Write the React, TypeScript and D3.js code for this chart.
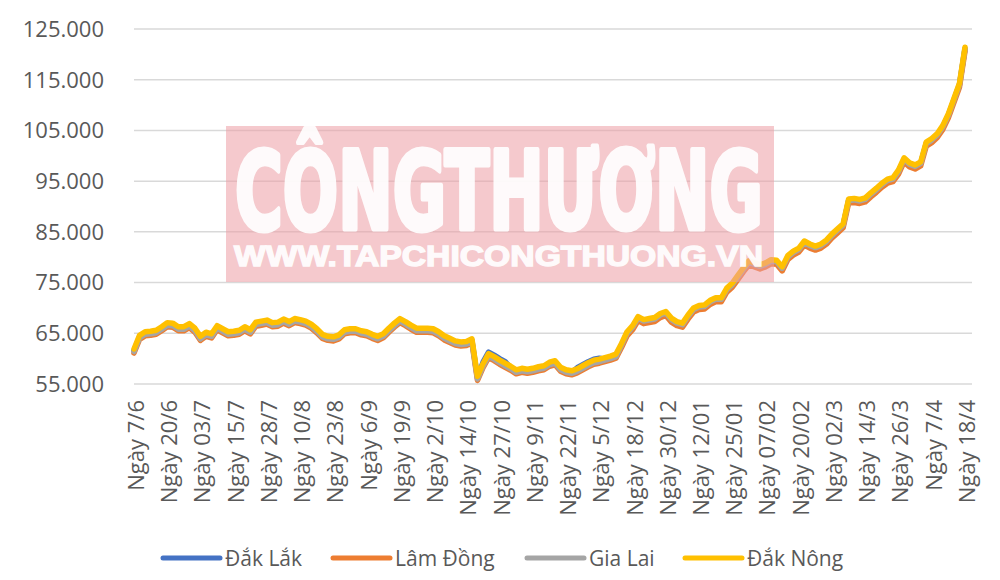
import React from "react";
import * as d3 from "d3";

// Tick labels shown on the category axis (one every 6 data points)
const tickLabels = [
  "Ngày 7/6", "Ngày 20/6", "Ngày 03/7", "Ngày 15/7", "Ngày 28/7", "Ngày 10/8",
  "Ngày 23/8", "Ngày 6/9", "Ngày 19/9", "Ngày 2/10", "Ngày 14/10", "Ngày 27/10",
  "Ngày 9/11", "Ngày 22/11", "Ngày 5/12", "Ngày 18/12", "Ngày 30/12", "Ngày 12/01",
  "Ngày 25/01", "Ngày 07/02", "Ngày 20/02", "Ngày 02/3", "Ngày 14/3", "Ngày 26/3",
  "Ngày 7/4", "Ngày 18/4",
];
const labelEvery = 6;

const yTicks = [55000, 65000, 75000, 85000, 95000, 105000, 115000, 125000];

const dakLak = [
  61600,64300,65000,65100,65300,66000,66800,66700,66000,66000,
  66600,65700,64100,64900,64600,66200,65600,65000,65100,65300,
  66000,65400,66900,67100,67300,66800,66900,67500,67000,67600,
  67400,67100,66500,65600,64500,64100,64000,64400,65400,65600,
  65600,65200,65000,64500,64100,64600,65700,66700,67600,67000,
  66300,65700,65700,65700,65600,65000,64200,63700,63200,63000,
  63100,63600,56200,59300,61300,60700,60000,59400,58200,57500,
  57800,57600,57800,58100,58300,59000,59300,58000,57500,57300,
  58200,58800,59400,59900,60100,59900,60200,60600,62700,65000,
  66200,68000,67400,67600,67800,68600,69000,67700,67000,66700,
  68300,69700,70200,70300,71200,71700,71700,73600,74600,76100,
  77600,79000,78600,78200,78600,79200,79100,77800,80000,80900,
  81500,82900,82300,81900,82300,83100,84300,85300,86300,91200,
  91300,91100,91400,92400,93300,94300,95100,95400,96900,99300,
  98300,97900,98500,102400,103100,104100,105700,108000,111000,114000,
  121100,
];

const lamDong = [
  61100,63800,64500,64600,64800,65500,66300,66200,65500,65500,
  66100,65200,63600,64400,64100,65700,65100,64500,64600,64800,
  65500,64900,66400,66600,66800,66300,66400,67000,66500,67100,
  66900,66600,66000,65100,64000,63600,63500,63900,64900,65100,
  65100,64700,64500,64000,63600,64100,65200,66200,67100,66500,
  65800,65200,65200,65200,65100,64500,63700,63200,62700,62500,
  62600,63100,55700,58200,60200,59600,58900,58300,57700,57000,
  57300,57100,57300,57600,57800,58500,58800,57500,57000,56800,
  57200,57800,58400,58900,59100,59400,59700,60100,62200,64500,
  65700,67500,66900,67100,67300,68100,68500,67200,66500,66200,
  67800,69200,69700,69800,70700,71200,71200,73100,74100,75600,
  77100,78500,78100,77700,78100,78700,78600,77300,79500,80400,
  81000,82400,81800,81400,81800,82600,83800,84800,85800,90700,
  90800,90600,90900,91900,92800,93800,94600,94900,96400,98800,
  97800,97400,98000,101900,102600,103600,105200,107500,110500,113500,
  120600,
];

const giaLai = [
  61400,64100,64800,64900,65100,65800,66600,66500,65800,65800,
  66400,65500,63900,64700,64400,66000,65400,64800,64900,65100,
  65800,65200,66700,66900,67100,66600,66700,67300,66800,67400,
  67200,66900,66300,65400,64300,63900,63800,64200,65200,65400,
  65400,65000,64800,64300,63900,64400,65500,66500,67400,66800,
  66100,65500,65500,65500,65400,64800,64000,63500,63000,62800,
  62900,63400,56000,58500,60500,59900,59200,58600,58000,57300,
  57600,57400,57600,57900,58100,58800,59100,57800,57300,57100,
  57500,58100,58700,59200,59400,59700,60000,60400,62700,65000,
  66200,68000,67400,67600,67800,68600,69000,67700,67000,66700,
  68300,69700,70200,70300,71200,71700,71700,73600,74600,76100,
  77600,79000,78600,78200,78600,79200,79100,77800,80000,80900,
  81500,82900,82300,81900,82300,83100,84300,85300,86300,91200,
  91300,91100,91400,92400,93300,94300,95100,95400,96900,99300,
  98300,97900,98500,102400,103100,104100,105700,108000,111000,114000,
  121100,
];

const dakNong = [
  61900,64600,65300,65400,65600,66300,67100,67000,66300,66300,
  66900,66000,64400,65200,64900,66500,65900,65300,65400,65600,
  66300,65700,67200,67400,67600,67100,67200,67800,67300,67900,
  67700,67400,66800,65900,64800,64400,64300,64700,65700,65900,
  65900,65500,65300,64800,64400,64900,66000,67000,67900,67300,
  66600,66000,66000,66000,65900,65300,64500,64000,63500,63300,
  63400,63900,56500,59000,61000,60400,59700,59100,58500,57800,
  58100,57900,58100,58400,58600,59300,59600,58300,57800,57600,
  58000,58600,59200,59700,59900,60200,60500,60900,63000,65300,
  66500,68300,67700,67900,68100,68900,69300,68000,67300,67000,
  68600,70000,70500,70600,71500,72000,72000,73900,74900,76400,
  77900,79300,78900,78500,78900,79500,79400,78100,80300,81200,
  81800,83200,82600,82200,82600,83400,84600,85600,86600,91500,
  91600,91400,91700,92700,93600,94600,95400,95700,97200,99600,
  98600,98200,98800,102700,103400,104400,106000,108300,111300,114300,
  121400,
];

const seriesNames = ["Đắk Lắk", "Lâm Đồng", "Gia Lai", "Đắk Nông"];
const seriesValues = [dakLak, lamDong, giaLai, dakNong];
const seriesColors = ["#4472C4", "#ED7D31", "#A5A5A5", "#FFC000"];

const W = 1000;
const H = 580;
const FONT = "'Open Sans', 'Noto Sans', sans-serif";

export default function App() {
  const n = dakNong.length;
  const idx = d3.range(n);
  const x = d3.scalePoint<number>().domain(idx).range([134, 965]);
  const y = d3.scaleLinear().domain([55000, 125000]).range([384, 29]);
  const fmt = (v: number) => d3.format(",")(v).replace(/,/g, ".");

  const line = (vals: number[]) =>
    d3
      .line<number>()
      .x((_, i) => x(i) as number)
      .y((v) => y(v))
      .curve(d3.curveLinear)(vals) || "";

  const legendX = [163, 333, 527, 685];

  return (
    <svg
      width={W}
      height={H}
      style={{ position: "absolute", left: 0, top: 0, background: "#fff" }}
      fontFamily={FONT}
    >
      <rect x={0} y={0} width={W} height={H} fill="#ffffff" />
      {/* gridlines */}
      {yTicks.map((t) => (
        <line key={t} x1={134} x2={972} y1={y(t)} y2={y(t)} stroke="#d9d9d9" strokeWidth={1.5} />
      ))}
      {/* y tick labels */}
      {yTicks.map((t) => (
        <text key={"l" + t} x={104} y={y(t)} dy="0.36em" textAnchor="end" fontSize={22} fill="#595959">
          {fmt(t)}
        </text>
      ))}
      {/* x tick labels */}
      {tickLabels.map((lab, k) => {
        const xi = x(k * labelEvery) as number;
        return (
          <text
            key={lab}
            transform={`translate(${xi + 2},400) rotate(-90)`}
            dy="0.36em"
            textAnchor="end"
            fontSize={22}
            fill="#595959"
          >
            {lab}
          </text>
        );
      })}
      {/* series */}
      {seriesValues.map((vals, s) => (
        <path
          key={seriesNames[s]}
          d={line(vals)}
          fill="none"
          stroke={seriesColors[s]}
          strokeWidth={5.5}
          strokeLinejoin="round"
          strokeLinecap="round"
        />
      ))}
      {/* watermark */}
      <g opacity={0.55}>
        <rect x={226} y={126} width={548} height={156} fill="#ed9da4" />
      </g>
      <g opacity={0.92} fill="#ffffff" stroke="#ffffff">
        <text
          x={235}
          y={229}
          fontSize={108}
          fontWeight="bold"
          strokeWidth={5}
          strokeLinejoin="round"
          fontFamily="'DejaVu Sans Condensed', 'DejaVu Sans', sans-serif"
          textLength={528}
          lengthAdjust="spacingAndGlyphs"
        >
          CÔNGTHƯƠNG
        </text>
        <text
          x={234}
          y={266}
          fontSize={29}
          fontWeight="bold"
          strokeWidth={1.4}
          fontFamily="'Liberation Sans', Arial, sans-serif"
          textLength={529}
          lengthAdjust="spacingAndGlyphs"
        >
          WWW.TAPCHICONGTHUONG.VN
        </text>
      </g>
      {/* legend */}
      {seriesNames.map((name, s) => (
        <g key={"lg" + name}>
          <line
            x1={legendX[s]}
            x2={legendX[s] + 57}
            y1={558}
            y2={558}
            stroke={seriesColors[s]}
            strokeWidth={5}
            strokeLinecap="round"
          />
          <text x={legendX[s] + 62} y={558} dy="0.36em" fontSize={21} fill="#595959">
            {name}
          </text>
        </g>
      ))}
    </svg>
  );
}
